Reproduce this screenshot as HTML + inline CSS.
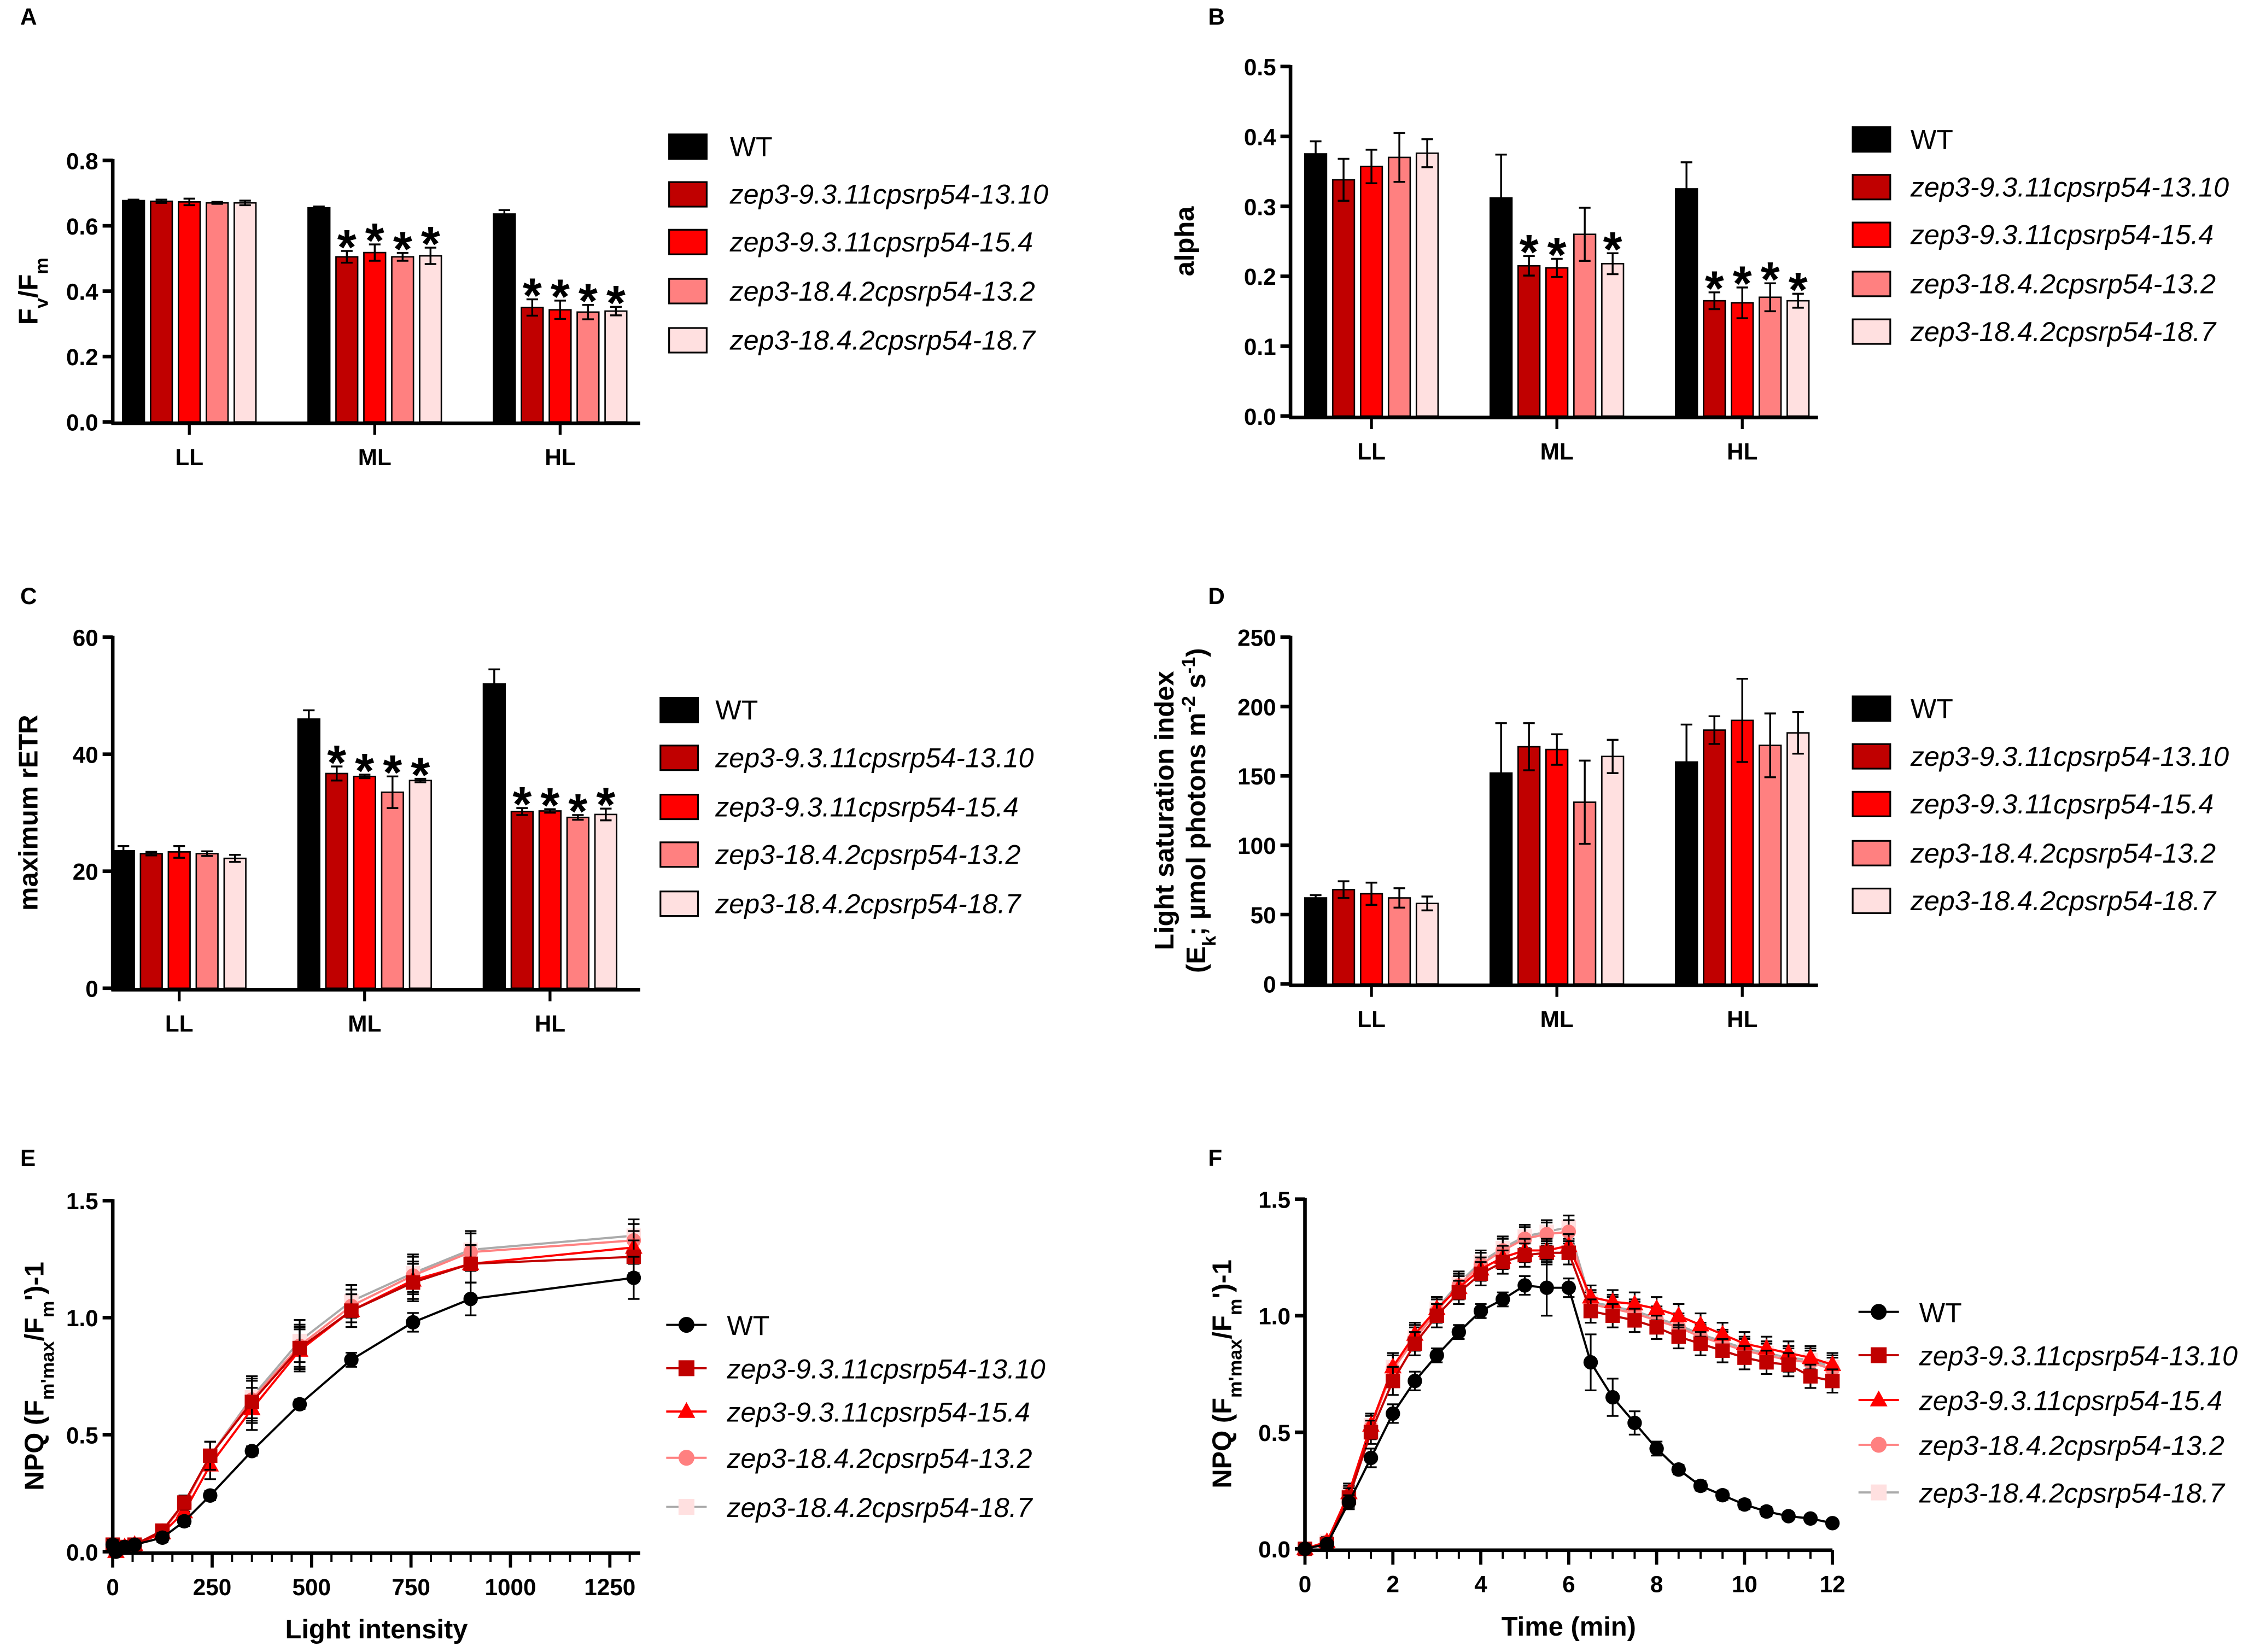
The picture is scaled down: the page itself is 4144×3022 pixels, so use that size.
<!DOCTYPE html>
<html><head><meta charset="utf-8"><style>
html,body{margin:0;padding:0;background:#fff}
svg{display:block}
text{font-family:"Liberation Sans",Arial,sans-serif}
</style></head><body>
<svg id="fig" width="4144" height="3022" viewBox="0 0 1568 1143.4" xmlns="http://www.w3.org/2000/svg"></svg>
<script>
const groups = ["LL","ML","HL"];
const seriesNames = ["WT","zep3-9.3.11cpsrp54-13.10","zep3-9.3.11cpsrp54-15.4","zep3-18.4.2cpsrp54-13.2","zep3-18.4.2cpsrp54-18.7"];
const colors = ["#000000","#c00000","#ff0000","#ff8080","#ffe0e0"];
// Panel A Fv/Fm
const aVals = [[0.677,0.655,0.636],[0.675,0.505,0.350],[0.673,0.518,0.343],[0.670,0.505,0.336],[0.670,0.508,0.339]];
const aErr = [[0.003,0.004,0.012],[0.005,0.018,0.025],[0.010,0.025,0.028],[0.003,0.012,0.022],[0.007,0.025,0.013]];
const aStar = [[0,0,0],[0,1,1],[0,1,1],[0,1,1],[0,1,1]];
const aTicks = [0,0.2,0.4,0.6,0.8];
// Panel B alpha
const bVals = [[0.375,0.312,0.325],[0.338,0.215,0.165],[0.357,0.212,0.162],[0.370,0.260,0.170],[0.376,0.218,0.165]];
const bErr = [[0.018,0.062,0.038],[0.030,0.014,0.012],[0.024,0.013,0.022],[0.035,0.038,0.020],[0.020,0.015,0.010]];
const bStar = [[0,0,0],[0,1,1],[0,1,1],[0,0,1],[0,1,1]];
const bTicks = [0,0.1,0.2,0.3,0.4,0.5];
// Panel C max rETR
const cVals = [[23.5,46,52],[23,36.7,30.2],[23.3,36.2,30.3],[23,33.5,29.2],[22.2,35.5,29.7]];
const cErr = [[0.8,1.5,2.5],[0.3,1.2,0.6],[1.0,0.3,0.3],[0.4,2.7,0.4],[0.6,0.3,1.0]];
const cStar = [[0,0,0],[0,1,1],[0,1,1],[0,1,1],[0,1,1]];
const cTicks = [0,20,40,60];
// Panel D Ek
const dVals = [[62,152,160],[68,171,183],[65,169,190],[62,131,172],[58,164,181]];
const dErr = [[2,36,27],[6,17,10],[8,11,30],[7,30,23],[5,12,15]];
const dStar = [[0,0,0],[0,0,0],[0,0,0],[0,0,0],[0,0,0]];
const dTicks = [0,50,100,150,200,250];
// Panel E NPQ vs light
const eX = [0,8,30,55,125,180,245,350,470,600,755,900,1310];
const eWT = [0.03,0.00,0.02,0.03,0.06,0.13,0.24,0.43,0.63,0.82,0.98,1.08,1.17];
const e1310 = [0.03,0.01,0.02,0.03,0.09,0.21,0.41,0.64,0.87,1.03,1.15,1.23,1.26];
const e154 = [0.02,0.00,0.02,0.03,0.08,0.17,0.37,0.61,0.86,1.03,1.16,1.23,1.30];
const e132 = [0.03,0.01,0.02,0.03,0.09,0.20,0.41,0.65,0.88,1.05,1.18,1.28,1.33];
const e187 = [0.03,0.01,0.02,0.03,0.09,0.20,0.41,0.66,0.90,1.07,1.19,1.29,1.35];
const eErrWT = [0.02,0.01,0.01,0.01,0.02,0.02,0.02,0.02,0.02,0.03,0.04,0.07,0.09];
const eErrM = [0.02,0.01,0.01,0.01,0.02,0.03,0.06,0.09,0.09,0.07,0.08,0.08,0.07];
const eXTicks = [0,250,500,750,1000,1250];
const eYTicks = [0,0.5,1.0,1.5];
// Panel F NPQ vs time
const fX = [0,0.5,1,1.5,2,2.5,3,3.5,4,4.5,5,5.5,6,6.5,7,7.5,8,8.5,9,9.5,10,10.5,11,11.5,12];
const fWT = [0,0.02,0.20,0.39,0.58,0.72,0.83,0.93,1.02,1.07,1.13,1.12,1.12,0.80,0.65,0.54,0.43,0.34,0.27,0.23,0.19,0.16,0.14,0.13,0.11];
const f1310 = [0,0.02,0.22,0.50,0.72,0.88,1.00,1.10,1.18,1.23,1.26,1.27,1.27,1.02,1.00,0.98,0.95,0.91,0.88,0.85,0.82,0.80,0.79,0.74,0.72];
const f154 = [0,0.03,0.24,0.53,0.78,0.92,1.03,1.12,1.20,1.25,1.28,1.28,1.30,1.08,1.06,1.05,1.03,1.00,0.96,0.92,0.88,0.86,0.84,0.82,0.79];
const f132 = [0,0.03,0.23,0.52,0.77,0.90,1.02,1.13,1.22,1.28,1.33,1.35,1.36,1.05,1.03,1.01,0.98,0.95,0.91,0.88,0.85,0.83,0.81,0.80,0.77];
const f187 = [0,0.03,0.24,0.53,0.78,0.91,1.03,1.14,1.23,1.29,1.34,1.36,1.38,1.06,1.04,1.02,0.99,0.96,0.92,0.89,0.86,0.84,0.82,0.81,0.78];
const fErrWT = [0.01,0.01,0.03,0.04,0.04,0.04,0.03,0.03,0.03,0.03,0.04,0.12,0.04,0.12,0.08,0.05,0.03,0.02,0.02,0.02,0.02,0.02,0.01,0.01,0.01];
const fErrM = [0.01,0.02,0.04,0.05,0.06,0.05,0.05,0.05,0.05,0.05,0.05,0.05,0.05,0.05,0.05,0.05,0.05,0.05,0.05,0.05,0.05,0.05,0.05,0.05,0.05];
const fXTicks = [0,2,4,6,8,10,12];
const fYTicks = [0,0.5,1.0,1.5];

const NS="http://www.w3.org/2000/svg";
const svg=document.getElementById('fig');
function mk(tag,attrs,parent,txt){const e=document.createElementNS(NS,tag);for(const k in attrs)e.setAttribute(k,attrs[k]);if(txt!==undefined)e.textContent=txt;(parent||svg).appendChild(e);return e;}
function lin(d0,d1,r0,r1){return v=>r0+(v-d0)/(d1-d0)*(r1-r0);}

function panelLetter(t,x,y){
  const e=mk('text',{x:x,y:y,'font-size':16,'font-weight':'bold'},svg,t);
  
  
}
function yAxis(g,ax,ytop,ybot,ticks,fmt,y){
  const l=mk('line',{x1:ax,y1:ytop,x2:ax,y2:ybot+1.5,stroke:'#000','stroke-width':2.5},g);
  
  
  ticks.forEach(t=>{
    mk('line',{x1:ax-7,y1:y(t),x2:ax,y2:y(t),stroke:'#000','stroke-width':2.5},g);
    const tx=mk('text',{x:ax-10,y:y(t)+6,'font-size':16,'font-weight':'bold','text-anchor':'end'},g,fmt(t));
    
    
  });
}
function yTitle(g,x,cy,content){
  const t=mk('text',{x:0,y:0,'font-size':18.5,'font-weight':'bold','text-anchor':'middle',transform:`translate(${x},${cy}) rotate(-90)`},g);
  t.innerHTML=content;
  
  
}
function barLegend(g,bx,tx,rows){
  seriesNames.forEach((n,i)=>{
    const lg=mk('g',{},g);
    
    
    mk('rect',{x:bx,y:rows[i]-8,width:26,height:17,fill:colors[i],stroke:'#000','stroke-width':1.2},lg);
    mk('text',{x:tx,y:rows[i]+7,'font-size':19,'font-style':i?'italic':'normal'},lg,n);
  });
}
function barPanel(o){
  const g=mk('g',{});
  
  
  const y=lin(0,o.ymax,o.y0,o.ytop);
  const cat=i=>o.c0+i*o.cstep;
  for(let s=0;s<5;s++){
    for(let gi=0;gi<3;gi++){
      const cx=cat(gi)+(s-2)*19.3;
      const v=o.vals[s][gi], er=o.err[s][gi];
      const b=mk('rect',{x:cx-7.5,y:y(v),width:15,height:o.y0-y(v),fill:colors[s],stroke:'#000','stroke-width':1},g);
      
      
      const up=y(v+er), dn=y(v-er);
      const eb=mk('path',{d:`M${cx},${s?dn:y(v)}V${up}M${cx-4},${up}H${cx+4}`+(s?`M${cx-4},${dn}H${cx+4}`:''),stroke:'#000','stroke-width':1.3,fill:'none'},g);
      
      
      if(o.star[s][gi]){
        const st=mk('text',{x:cx,y:up+9,'font-size':34,'font-weight':'bold','text-anchor':'middle'},g,'*');
        
        
      }
    }
  }
  yAxis(g,o.ax,o.ytop-1,o.y0,o.ticks,o.fmt,y);
  const xa=mk('line',{x1:o.ax-1,y1:o.y0+1,x2:o.xend,y2:o.y0+1,stroke:'#000','stroke-width':2.5},g);
  
  
  groups.forEach((gr,i)=>{
    mk('line',{x1:cat(i),y1:o.y0+1,x2:cat(i),y2:o.y0+9,stroke:'#000','stroke-width':2},g);
    const t=mk('text',{x:cat(i),y:o.y0+30,'font-size':16,'font-weight':'bold','text-anchor':'middle'},g,gr);
    
    
  });
  yTitle(g,o.tx,(o.y0+o.ytop)/2,o.title);
  barLegend(g,o.lbx,o.ltx,o.rows);
}

panelLetter('A',14,17);
barPanel({name:'panel-a-fvfm',vals:aVals,err:aErr,star:aStar,ymax:0.8,ticks:aTicks,fmt:v=>v.toFixed(1),ax:78,ytop:111,y0:292,xend:443,c0:131,cstep:128.3,tx:26,title:'F<tspan baseline-shift="sub" font-size="13">v</tspan>/F<tspan baseline-shift="sub" font-size="13">m</tspan>',lbx:463,ltx:505,rows:[101,134,167,201,235]});
panelLetter('B',836,17);
barPanel({name:'panel-b-alpha',vals:bVals,err:bErr,star:bStar,ymax:0.5,ticks:bTicks,fmt:v=>v.toFixed(1),ax:893,ytop:46,y0:288,xend:1258,c0:949,cstep:128.3,tx:826,title:'alpha',lbx:1282,ltx:1322,rows:[96,129,162,196,229]});
panelLetter('C',14,418);
barPanel({name:'panel-c-retr',vals:cVals,err:cErr,star:cStar,ymax:60,ticks:cTicks,fmt:v=>String(v),ax:78,ytop:441,y0:684,xend:443,c0:124,cstep:128.3,tx:26,title:'maximum rETR',lbx:457,ltx:495,rows:[491,524,558,591,625]});
panelLetter('D',836,418);
barPanel({name:'panel-d-ek',vals:dVals,err:dErr,star:dStar,ymax:250,ticks:dTicks,fmt:v=>String(v),ax:893,ytop:441,y0:681,xend:1258,c0:949,cstep:128.3,tx:812,title:'Light saturation index',lbx:1282,ltx:1322,rows:[490,523,556,590,623]});
(function(){const t=mk('text',{x:0,y:0,'font-size':18.5,'font-weight':'bold','text-anchor':'middle',transform:'translate(834,561) rotate(-90)'});
t.innerHTML='(E<tspan baseline-shift="sub" font-size="13">k</tspan>; µmol photons m<tspan baseline-shift="super" font-size="13">-2</tspan> s<tspan baseline-shift="super" font-size="13">-1</tspan>)';

})();

function marker(g,type,x,y,col,r){
  if(type==='circle') return mk('circle',{cx:x,cy:y,r:r,fill:col},g);
  if(type==='square') return mk('rect',{x:x-r,y:y-r,width:2*r,height:2*r,fill:col},g);
  if(type==='tri') return mk('path',{d:`M${x},${y-r*1.2}L${x+r*1.1},${y+r*0.8}L${x-r*1.1},${y+r*0.8}Z`,fill:col},g);
}
const lineCols=["#000000","#c00000","#ff0000","#ff8080","#aaaaaa"];
const markCols=["#000000","#c00000","#ff0000","#ff8080","#ffe0e0"];
const markTypes=["circle","square","tri","circle","square"];
function linePanel(o){
  const g=mk('g',{});
  
  
  const x=lin(o.xmin,o.xmax,o.ax,o.xmaxPx), y=lin(0,1.5,o.y0,o.ytop);
  const order=[4,3,2,1,0];
  order.forEach(s=>{
    const ys=o.series[s], er=s?o.errM:o.errWT;
    const sg=mk('g',{},g);
    
    
    ys.forEach((v,i)=>{
      const up=y(v+er[i]),dn=y(v-er[i]),cx=x(o.xs[i]);
      mk('path',{d:`M${cx},${dn}V${up}M${cx-4},${up}H${cx+4}M${cx-4},${dn}H${cx+4}`,stroke:'#000','stroke-width':1.2,fill:'none'},sg);
    });
    mk('polyline',{points:ys.map((v,i)=>x(o.xs[i])+','+y(v)).join(' '),fill:'none',stroke:lineCols[s],'stroke-width':1.5},sg);
    ys.forEach((v,i)=>{
      const m=marker(sg,markTypes[s],x(o.xs[i]),y(v),markCols[s],s===2?5.5:5);
      
      
    });
  });
  yAxis(g,o.ax,o.ytop-1,o.y0,o.yticks,v=>v.toFixed(1),y);
  const xa=mk('line',{x1:o.ax-1,y1:o.y0+1,x2:o.xend,y2:o.y0+1,stroke:'#000','stroke-width':2.5},g);
  
  
  for(let v=o.xmin;v<=o.xmin+(o.xend-o.ax)/(o.xmaxPx-o.ax)*(o.xmax-o.xmin)+1e-6;v+=o.minor){
    mk('line',{x1:x(v),y1:o.y0+1,x2:x(v),y2:o.y0+7,stroke:'#000','stroke-width':1.5},g);
  }
  o.xticks.forEach(t=>{
    mk('line',{x1:x(t),y1:o.y0+1,x2:x(t),y2:o.y0+11,stroke:'#000','stroke-width':2.2},g);
    const tx=mk('text',{x:x(t),y:o.y0+30,'font-size':16,'font-weight':'bold','text-anchor':'middle'},g,String(t));
    
    
  });
  const xt=mk('text',{x:(o.ax+o.xend)/2,y:o.y0+60,'font-size':18.5,'font-weight':'bold','text-anchor':'middle'},g,o.xtitle);
  
  
  yTitle(g,o.tx,(o.y0+o.ytop)/2,'NPQ (F<tspan baseline-shift="sub" font-size="13">m\'max</tspan>/F<tspan baseline-shift="sub" font-size="13">m</tspan>\')-1');
  seriesNames.forEach((n,i)=>{
    const lg=mk('g',{},g);
    
    
    const r=o.rows[i];
    mk('line',{x1:o.lmx-14,y1:r,x2:o.lmx+14,y2:r,stroke:lineCols[i],'stroke-width':1.5},lg);
    marker(lg,markTypes[i],o.lmx,r,markCols[i],5.5);
    mk('text',{x:o.ltx,y:r+7,'font-size':19,'font-style':i?'italic':'normal'},lg,n);
  });
}
panelLetter('E',14,807);
linePanel({name:'panel-e-npq-light',xs:eX,series:[eWT,e1310,e154,e132,e187],errWT:eErrWT,errM:eErrM,xmin:0,xmax:1250,ax:78,xmaxPx:422,xend:443,minor:50,xticks:eXTicks,yticks:eYTicks,ytop:831,y0:1074,tx:30,xtitle:'Light intensity',lmx:475,ltx:503,rows:[917,947,977,1009,1043]});
panelLetter('F',836,807);
linePanel({name:'panel-f-npq-time',xs:fX,series:[fWT,f1310,f154,f132,f187],errWT:fErrWT,errM:fErrM,xmin:0,xmax:12,ax:903,xmaxPx:1268,xend:1268,minor:0.5,xticks:fXTicks,yticks:fYTicks,ytop:830,y0:1072,tx:852,xtitle:'Time (min)',lmx:1300,ltx:1328,rows:[908,938,969,1000,1033]});
</script>
</body></html>
